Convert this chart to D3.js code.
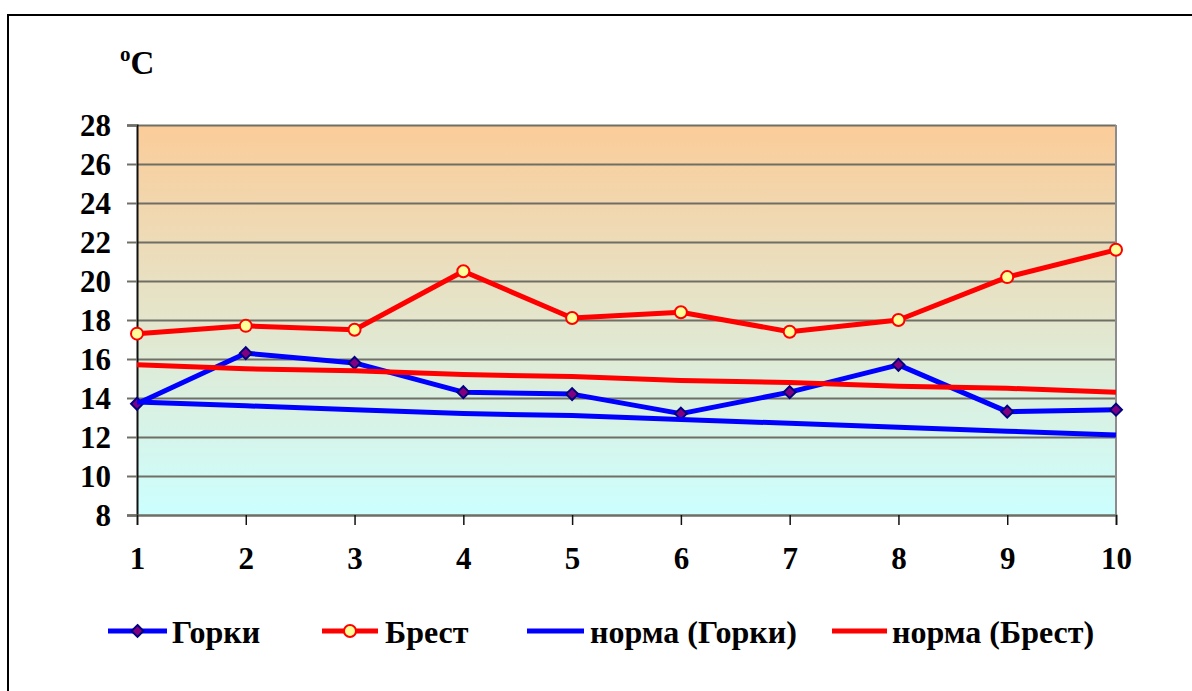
<!DOCTYPE html>
<html><head><meta charset="utf-8">
<script src="https://cdn.jsdelivr.net/npm/d3@7"></script>
<style>body{margin:0;background:#fff}svg{display:block}text{font-family:"Liberation Serif","Times New Roman",serif;font-weight:bold}</style>
</head><body>
<script>
const categories = [1,2,3,4,5,6,7,8,9,10];
const gorki = [13.7,16.3,15.8,14.3,14.2,13.2,14.3,15.7,13.3,13.4];
const brest = [17.3,17.7,17.5,20.5,18.1,18.4,17.4,18.0,20.2,21.6];
const normaGorki = [13.8,13.6,13.4,13.2,13.1,12.9,12.7,12.5,12.3,12.1];
const normaBrest = [15.7,15.5,15.4,15.2,15.1,14.9,14.8,14.6,14.5,14.3];
const yTicks = [8,10,12,14,16,18,20,22,24,26,28];
const seriesNames = ["Горки","Брест","норма (Горки)","норма (Брест)"];

const W=1192,H=691;
const svg=d3.select("body").append("svg").attr("width",W).attr("height",H);
const L=137,R=1116,T=125,B=515;
const x=d3.scalePoint().domain(categories).range([L,R]);
const y=d3.scaleLinear().domain([8,28]).range([B,T]);

const defs=svg.append("defs");
const g=defs.append("linearGradient").attr("id","bg").attr("x1",0).attr("y1",0).attr("x2",0).attr("y2",1);
g.append("stop").attr("offset","0%").attr("stop-color","#FBCC99");
g.append("stop").attr("offset","100%").attr("stop-color","#CCFFFF");

// outer border
svg.append("rect").attr("x",8).attr("y",15).attr("width",W).attr("height",H).attr("fill","none").attr("stroke","#000").attr("stroke-width",2);

svg.append("rect").attr("x",L).attr("y",T).attr("width",R-L).attr("height",B-T).attr("fill","url(#bg)");

// gridlines
const grid=svg.append("g").attr("transform",`translate(${L},0)`)
  .call(d3.axisLeft(y).tickValues(yTicks).tickSize(-(R-L)).tickFormat(""));
grid.select(".domain").remove();
grid.selectAll("line").attr("stroke","#6f6f66").attr("stroke-width",2);

// right border
svg.append("line").attr("x1",R).attr("x2",R).attr("y1",T).attr("y2",B).attr("stroke","#8c8c8c").attr("stroke-width",2);

// y axis
const ya=svg.append("g").attr("transform",`translate(${L},0)`)
  .call(d3.axisLeft(y).tickValues(yTicks).tickSize(10).tickPadding(16).tickFormat(d3.format("d")));
ya.select(".domain").attr("stroke","#111").attr("stroke-width",2);
ya.selectAll(".tick line").attr("stroke","#6f6f66").attr("stroke-width",2);
ya.selectAll("text").attr("font-size",31).attr("fill","#000").attr("font-family","Liberation Serif").attr("font-weight","bold").attr("dy","0.34em");

// x axis
const xa=svg.append("g").attr("transform",`translate(0,${B})`)
  .call(d3.axisBottom(x).tickSize(10).tickPadding(22));
xa.select(".domain").attr("stroke","#6f6f66").attr("stroke-width",2);
xa.selectAll(".tick line").attr("stroke","#111").attr("stroke-width",1.5);
xa.selectAll("text").attr("font-size",31).attr("fill","#000").attr("font-family","Liberation Serif").attr("font-weight","bold").attr("dy","0.71em");

// unit label
const u=svg.append("text").attr("x",120).attr("y",74).attr("font-size",33).attr("fill","#000");
u.append("tspan").text("o").attr("font-size",21).attr("dy",-13);
u.append("tspan").text("C").attr("dy",13);

const line=d3.line().x((d,i)=>x(categories[i])).y(d=>y(d));
const drawLine=(data,color)=>svg.append("path").datum(data).attr("d",line).attr("fill","none").attr("stroke",color).attr("stroke-width",5).attr("stroke-linejoin","round");

drawLine(gorki,"#0000FF");
const diamond=d3.symbol().type(d3.symbolDiamond2).size(90);
svg.selectAll(".dg").data(gorki).join("path").attr("transform",(d,i)=>`translate(${x(categories[i])},${y(d)})`)
  .attr("d",diamond).attr("fill","#800080").attr("stroke","#000080").attr("stroke-width",2);
drawLine(brest,"#FF0000");
svg.selectAll(".cb").data(brest).join("circle").attr("cx",(d,i)=>x(categories[i])).attr("cy",d=>y(d)).attr("r",6)
  .attr("fill","#FFFF99").attr("stroke","#FF0000").attr("stroke-width",2);
drawLine(normaGorki,"#0000FF");
drawLine(normaBrest,"#FF0000");

// legend
const leg=[{x1:108,x2:167,tx:172,c:"#0000FF",m:"d"},{x1:322,x2:378,tx:385,c:"#FF0000",m:"c"},{x1:527,x2:584,tx:590,c:"#0000FF"},{x1:832,x2:887,tx:892,c:"#FF0000"}];
const ly=631;
leg.forEach((l,i)=>{
  svg.append("line").attr("x1",l.x1).attr("x2",l.x2).attr("y1",ly).attr("y2",ly).attr("stroke",l.c).attr("stroke-width",5);
  const cx=(l.x1+l.x2)/2;
  if(l.m==="d") svg.append("path").attr("d",diamond).attr("transform",`translate(${cx},${ly})`).attr("fill","#800080").attr("stroke","#000080").attr("stroke-width",2);
  if(l.m==="c") svg.append("circle").attr("cx",cx).attr("cy",ly).attr("r",6).attr("fill","#FFFF99").attr("stroke","#FF0000").attr("stroke-width",2);
  svg.append("text").attr("x",l.tx).attr("y",643).attr("font-size",32).attr("fill","#000").text(seriesNames[i]);
});
</script>
</body></html>
